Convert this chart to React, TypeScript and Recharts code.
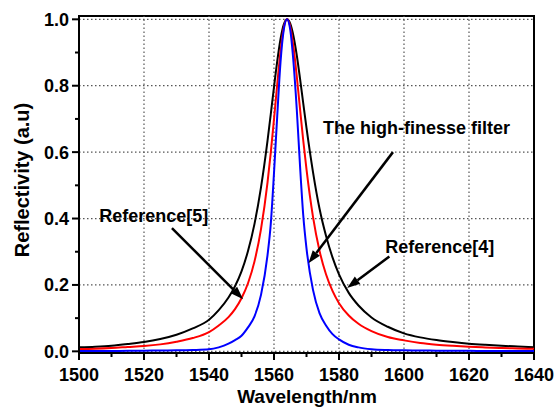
import React from 'react';
import { LineChart, Line, XAxis, YAxis, ReferenceLine, ReferenceArea, ReferenceDot } from 'recharts';

// wavelength samples (nm)
const wavelengths = [
  1500, 1505, 1510, 1515, 1520, 1525, 1530, 1535, 1540, 1543, 1546, 1548, 1550, 1552, 1554, 1556,
  1558, 1559, 1560, 1561, 1562, 1563, 1564, 1565, 1566, 1567, 1568, 1569, 1570, 1572, 1574, 1576,
  1578, 1580, 1583, 1586, 1590, 1595, 1600, 1605, 1610, 1615, 1620, 1625, 1630, 1635, 1640,
];

// Reference[4] (black)
const ref4 = [
  0.012, 0.014, 0.017, 0.022, 0.028, 0.037, 0.05, 0.069, 0.095, 0.124, 0.162, 0.196, 0.241, 0.302, 0.384, 0.494,
  0.634, 0.714, 0.796, 0.874, 0.94, 0.984, 1.0, 0.987, 0.949, 0.892, 0.822, 0.747, 0.673, 0.54, 0.43, 0.348,
  0.283, 0.232, 0.176, 0.138, 0.102, 0.074, 0.054, 0.042, 0.034, 0.028, 0.023, 0.0195, 0.0167, 0.0145, 0.0126,
];

// Reference[5] (red)
const ref5 = [
  0.007, 0.008, 0.01, 0.013, 0.016, 0.021, 0.029, 0.04, 0.058, 0.078, 0.103, 0.127, 0.16, 0.205, 0.271, 0.368,
  0.508, 0.598, 0.699, 0.805, 0.903, 0.974, 1.0, 0.978, 0.916, 0.829, 0.731, 0.635, 0.548, 0.405, 0.303, 0.232,
  0.182, 0.145, 0.108, 0.083, 0.061, 0.043, 0.033, 0.025, 0.02, 0.0165, 0.0137, 0.0116, 0.0099, 0.0086, 0.0075,
];

// high-finesse filter (blue)
const highFinesse = [
  0.001, 0.001, 0.0012, 0.0015, 0.002, 0.0025, 0.003, 0.004, 0.006, 0.012, 0.023, 0.034, 0.047, 0.072, 0.105, 0.17,
  0.289, 0.383, 0.537, 0.71, 0.87, 0.968, 1.0, 0.968, 0.87, 0.73, 0.56, 0.41, 0.31, 0.185, 0.115, 0.078,
  0.052, 0.036, 0.02, 0.012, 0.0065, 0.004, 0.003, 0.0025, 0.002, 0.0018, 0.0015, 0.0013, 0.0012, 0.0011, 0.001,
];

const xTicks = [1500, 1510, 1520, 1530, 1540, 1550, 1560, 1570, 1580, 1590, 1600, 1610, 1620, 1630, 1640];
const yTicks = [0, 0.1, 0.2, 0.3, 0.4, 0.5, 0.6, 0.7, 0.8, 0.9, 1.0];
const xGrid = [1520, 1540, 1560, 1580, 1600, 1620];
const yGrid = [0, 0.2, 0.4, 0.6, 0.8, 1.0];

const data = wavelengths.map((w, i) => ({ w, black: ref4[i], red: ref5[i], blue: highFinesse[i] }));

const FONT = 'Liberation Sans, Arial, Helvetica, sans-serif';

const XTick = (props: any) => {
  const { x, y, payload } = props;
  const major = payload.value % 20 === 0;
  return (
    <g>
      <line x1={x} y1={y} x2={x} y2={y + (major ? 7 : 4)} stroke="#000" strokeWidth={2} />
      {major && (
        <text x={x} y={y + 27.5} textAnchor="middle" fontSize={18} fontWeight="bold" fontFamily={FONT} fill="#000">
          {payload.value}
        </text>
      )}
    </g>
  );
};

const YTick = (props: any) => {
  const { x, y, payload } = props;
  const major = Math.round(payload.value * 10) % 2 === 0;
  return (
    <g>
      <line x1={x - (major ? 7 : 4)} y1={y} x2={x} y2={y} stroke="#000" strokeWidth={2} />
      {major && (
        <text x={x - 10} y={y + 6.5} textAnchor="end" fontSize={18} fontWeight="bold" fontFamily={FONT} fill="#000">
          {payload.value.toFixed(1)}
        </text>
      )}
    </g>
  );
};

const Arrow = (props: any) => {
  const { x1, y1, x2, y2 } = props;
  const ang = Math.atan2(y2 - y1, x2 - x1);
  const len = 13;
  const half = 4.5;
  const bx = x2 - len * Math.cos(ang);
  const by = y2 - len * Math.sin(ang);
  const px = -Math.sin(ang) * half;
  const py = Math.cos(ang) * half;
  return (
    <g>
      <line x1={x1} y1={y1} x2={bx} y2={by} stroke="#000" strokeWidth={2.5} />
      <polygon points={`${x2},${y2} ${bx + px},${by + py} ${bx - px},${by - py}`} fill="#000" />
    </g>
  );
};

const labelShape = (text: string) => (p: any) => (
  <text x={p.cx} y={p.cy} fontSize={18} fontWeight="bold" fontFamily={FONT} fill="#000">
    {text}
  </text>
);

const App = () => {
  return (
    <div style={{ position: 'absolute', left: 0, top: 0, width: 558, height: 407, background: '#fff' }}>
      <LineChart width={558} height={407} data={data} margin={{ top: 16, right: 24, bottom: 0, left: 0 }}>
        <XAxis
          dataKey="w"
          type="number"
          domain={[1500, 1640]}
          ticks={xTicks}
          interval={0}
          height={54}
          tickSize={0}
          tickMargin={0}
          tickLine={false}
          tick={<XTick />}
          axisLine={{ stroke: '#000', strokeWidth: 2 }}
        />
        <YAxis
          type="number"
          domain={[-0.005, 1.01]}
          ticks={yTicks}
          interval={0}
          width={79}
          tickSize={0}
          tickMargin={0}
          tickLine={false}
          tick={<YTick />}
          axisLine={{ stroke: '#000', strokeWidth: 2 }}
        />
        {xGrid.map((v) => (
          <ReferenceLine key={`gx${v}`} x={v} stroke="#555" strokeWidth={1.2} strokeDasharray="1.5 2.5" />
        ))}
        {yGrid.map((v) => (
          <ReferenceLine key={`gy${v}`} y={v} stroke="#555" strokeWidth={1.2} strokeDasharray="1.5 2.5" />
        ))}
        <ReferenceArea x1={1500} x2={1640} y1={-0.005} y2={1.01} fill="none" stroke="#000" strokeWidth={2} />
        <Line type="monotone" dataKey="black" stroke="#000000" strokeWidth={2} dot={false} isAnimationActive={false} />
        <Line type="monotone" dataKey="red" stroke="#ff0000" strokeWidth={2} dot={false} isAnimationActive={false} />
        <Line type="monotone" dataKey="blue" stroke="#0000ff" strokeWidth={2} dot={false} isAnimationActive={false} />

        <ReferenceLine segment={[{ x: 1596.6, y: 0.6 }, { x: 1570.6, y: 0.265 }]} shape={Arrow} />
        <ReferenceLine segment={[{ x: 1528.6, y: 0.371 }, { x: 1550.5, y: 0.157 }]} shape={Arrow} />
        <ReferenceLine segment={[{ x: 1595.5, y: 0.286 }, { x: 1582.5, y: 0.191 }]} shape={Arrow} />

        <ReferenceDot x={1575.1} y={0.654} r={0} shape={labelShape('The high-finesse filter')} />
        <ReferenceDot x={1506.2} y={0.389} r={0} shape={labelShape('Reference[5]')} />
        <ReferenceDot x={1594.2} y={0.296} r={0} shape={labelShape('Reference[4]')} />
      </LineChart>
      <svg width={558} height={407} style={{ position: 'absolute', left: 0, top: 0, pointerEvents: 'none' }}>
        <text
          x={22}
          y={180}
          transform="rotate(-90 22 180)"
          textAnchor="middle"
          dominantBaseline="central"
          fontSize={20}
          fontWeight="bold"
          fontFamily={FONT}
          fill="#000"
        >
          Reflectivity (a.u)
        </text>
        <text x={307} y={403} textAnchor="middle" fontSize={19} fontWeight="bold" fontFamily={FONT} fill="#000">
          Wavelength/nm
        </text>
      </svg>
    </div>
  );
};

export default App;
